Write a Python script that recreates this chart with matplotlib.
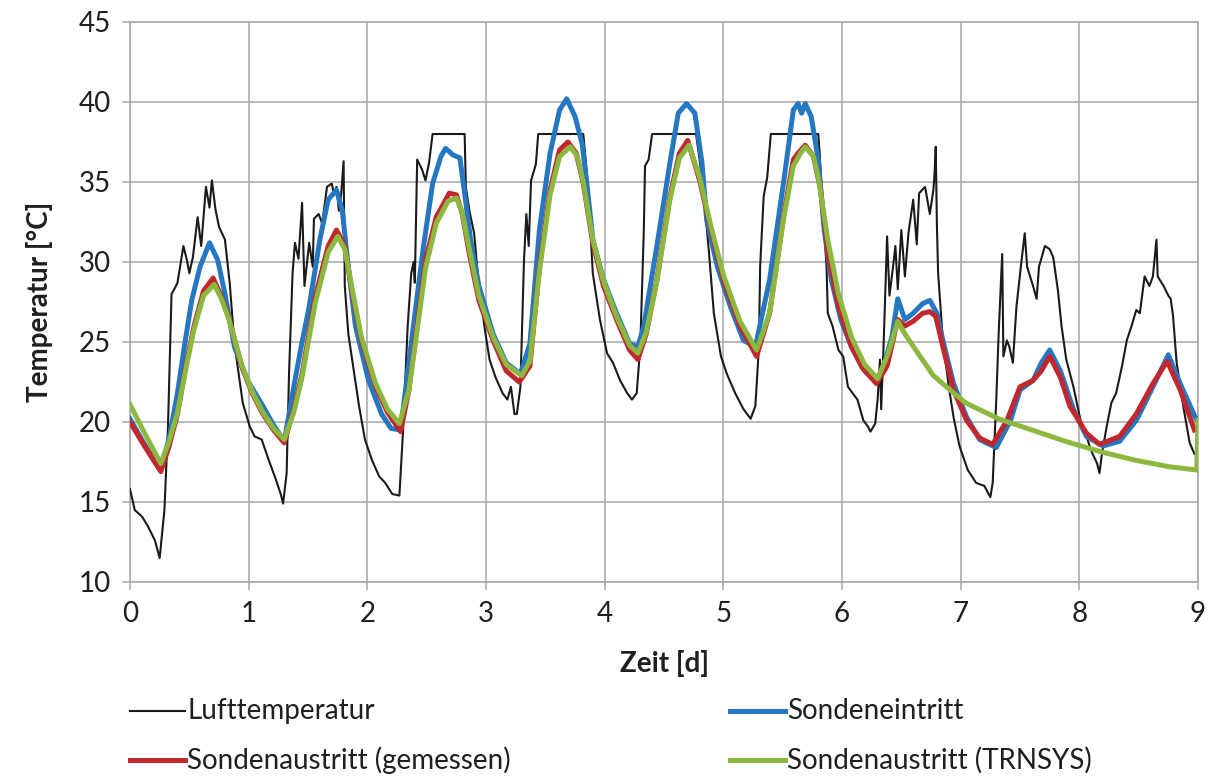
import matplotlib
matplotlib.use("Agg")
import matplotlib.pyplot as plt
from matplotlib.lines import Line2D

# ---------------- data ----------------
air_t = [0.00, 0.04, 0.10, 0.15, 0.21, 0.25, 0.29, 0.32, 0.35, 0.38, 0.40, 0.45, 0.48, 0.50,
         0.53, 0.57, 0.60, 0.64, 0.67, 0.69, 0.72, 0.75, 0.80, 0.84, 0.88, 0.95, 1.01, 1.05,
         1.11, 1.17, 1.22, 1.27, 1.29, 1.32, 1.34, 1.37, 1.39, 1.42, 1.45, 1.47, 1.51, 1.54,
         1.55, 1.59, 1.62, 1.66, 1.70, 1.72, 1.74, 1.76, 1.78, 1.80, 1.81, 1.84, 1.88, 1.93,
         1.98, 2.04, 2.10, 2.15, 2.21, 2.27, 2.30, 2.34, 2.37, 2.39, 2.40, 2.42, 2.46, 2.49,
         2.52, 2.55, 2.82, 2.83, 2.86, 2.90, 2.94, 2.99, 3.03, 3.08, 3.14, 3.18, 3.21, 3.24,
         3.26, 3.29, 3.32, 3.34, 3.36, 3.38, 3.42, 3.44, 3.82, 3.86, 3.90, 3.96, 4.02, 4.07,
         4.13, 4.19, 4.23, 4.27, 4.30, 4.33, 4.34, 4.37, 4.40, 4.77, 4.80, 4.84, 4.88, 4.92,
         4.98, 5.03, 5.10, 5.17, 5.23, 5.27, 5.30, 5.31, 5.34, 5.37, 5.40, 5.80, 5.81, 5.84,
         5.87, 5.88, 5.92, 5.97, 6.01, 6.05, 6.09, 6.13, 6.18, 6.22, 6.24, 6.28, 6.30, 6.32,
         6.33, 6.35, 6.38, 6.40, 6.43, 6.45, 6.47, 6.50, 6.53, 6.56, 6.60, 6.63, 6.65, 6.70,
         6.74, 6.77, 6.78, 6.79, 6.80, 6.81, 6.85, 6.90, 6.94, 6.99, 7.06, 7.13, 7.20, 7.25,
         7.27, 7.30, 7.32, 7.35, 7.36, 7.39, 7.41, 7.44, 7.47, 7.51, 7.54, 7.56, 7.61, 7.64,
         7.66, 7.71, 7.75, 7.78, 7.82, 7.85, 7.89, 7.95, 8.01, 8.06, 8.10, 8.15, 8.17, 8.19,
         8.23, 8.27, 8.31, 8.36, 8.40, 8.44, 8.48, 8.51, 8.55, 8.59, 8.62, 8.65, 8.66, 8.71,
         8.75, 8.77, 8.79, 8.82, 8.88, 8.93, 8.97]
air_T = [15.8, 14.5, 14.1, 13.5, 12.6, 11.5, 14.5, 19.7, 28.0, 28.4, 28.7, 31.0, 30.1, 29.3,
         30.3, 32.8, 31.0, 34.7, 33.4, 35.1, 33.3, 32.2, 31.4, 28.7, 24.9, 21.2, 19.7, 19.1,
         18.9, 17.6, 16.6, 15.5, 14.9, 16.8, 23.0, 29.3, 31.2, 30.2, 33.7, 28.5, 31.2, 29.7,
         32.7, 33.0, 32.4, 34.7, 34.9, 34.2, 34.7, 33.2, 34.3, 36.3, 28.5, 25.5, 23.5, 21.0,
         18.9, 17.6, 16.6, 16.2, 15.5, 15.4, 19.3, 26.0, 29.3, 30.0, 28.7, 36.4, 35.8, 35.1,
         36.2, 38.0, 38.0, 34.7, 33.2, 31.8, 28.5, 25.8, 23.9, 22.8, 21.8, 21.4, 22.2, 20.5,
         20.5, 22.2, 30.1, 33.0, 31.0, 35.1, 36.1, 38.0, 38.0, 34.7, 29.3, 26.4, 24.3, 23.7,
         22.6, 21.8, 21.4, 21.8, 24.7, 32.0, 36.0, 36.4, 38.0, 38.0, 36.4, 33.9, 30.5, 26.8,
         24.1, 23.0, 21.8, 20.8, 20.2, 21.0, 24.7, 29.7, 34.1, 35.3, 38.0, 38.0, 37.0, 33.0,
         29.7, 26.8, 26.0, 24.5, 24.1, 22.2, 21.8, 21.4, 20.1, 19.7, 19.4, 19.9, 21.4, 23.9,
         20.8, 24.7, 31.6, 27.9, 29.7, 31.0, 28.3, 32.0, 29.1, 31.8, 33.9, 31.1, 34.3, 34.7,
         33.0, 34.5, 35.5, 37.2, 32.2, 29.3, 25.1, 22.2, 20.3, 18.5, 17.0, 16.2, 16.0, 15.3,
         16.2, 21.4, 25.5, 30.5, 24.1, 25.1, 24.7, 23.7, 27.2, 29.9, 31.8, 29.7, 28.5, 27.7,
         29.7, 31.0, 30.8, 30.3, 28.2, 26.0, 23.9, 22.2, 20.1, 19.1, 18.2, 17.4, 16.8, 18.0,
         19.7, 21.2, 21.8, 23.5, 25.1, 26.0, 27.0, 26.8, 29.1, 28.5, 29.1, 31.4, 29.1, 28.5,
         27.9, 27.7, 26.6, 23.7, 20.8, 18.7, 18.0]

inlet_t = [0.00, 0.13, 0.26, 0.33, 0.40, 0.46, 0.52, 0.59, 0.67, 0.74, 0.80, 0.88, 0.99, 1.12,
           1.21, 1.30, 1.39, 1.45, 1.51, 1.60, 1.67, 1.74, 1.79, 1.83, 1.90, 2.01, 2.12, 2.20,
           2.28, 2.38, 2.47, 2.55, 2.62, 2.66, 2.72, 2.78, 2.82, 2.87, 2.94, 3.06, 3.17, 3.29,
           3.37, 3.45, 3.54, 3.62, 3.68, 3.75, 3.81, 3.85, 3.90, 3.99, 4.10, 4.21, 4.28, 4.33,
           4.44, 4.55, 4.62, 4.69, 4.76, 4.82, 4.86, 4.95, 5.06, 5.17, 5.27, 5.39, 5.51, 5.59,
           5.63, 5.66, 5.69, 5.74, 5.80, 5.85, 5.91, 5.99, 6.08, 6.19, 6.29, 6.36, 6.42, 6.47,
           6.53, 6.60, 6.68, 6.74, 6.80, 6.85, 6.94, 7.05, 7.16, 7.30, 7.42, 7.50, 7.61, 7.68,
           7.75, 7.84, 7.95, 8.06, 8.20, 8.34, 8.48, 8.62, 8.75, 8.85, 8.97, 9.00]
inlet_T = [20.2, 18.5, 17.1, 19.0, 21.8, 24.8, 27.6, 29.7, 31.2, 30.1, 28.0, 24.7, 22.6, 21.0,
           19.8, 18.8, 22.6, 25.0, 27.2, 31.4, 33.9, 34.5, 33.2, 30.3, 26.0, 22.6, 20.5, 19.6,
           19.5, 25.5, 30.8, 34.9, 36.6, 37.1, 36.7, 36.5, 34.3, 31.4, 28.5, 25.5, 23.7, 23.0,
           24.9, 32.0, 36.8, 39.5, 40.2, 39.1, 37.4, 34.9, 31.4, 28.9, 26.8, 24.9, 24.7, 26.0,
           31.0, 36.2, 39.3, 39.9, 39.3, 36.2, 32.6, 29.7, 27.2, 25.1, 24.7, 28.9, 35.1, 39.5,
           39.9, 39.3, 39.9, 39.1, 36.4, 32.0, 28.9, 26.4, 24.7, 23.2, 22.5, 23.7, 25.3, 27.7,
           26.4, 26.8, 27.4, 27.6, 26.8, 25.1, 22.4, 20.3, 18.9, 18.4, 20.1, 22.0, 22.6, 23.7,
           24.5, 23.2, 20.8, 19.1, 18.5, 18.8, 20.1, 22.2, 24.2, 22.4, 20.4, 20.0]

outlet_t = [0.00, 0.13, 0.26, 0.33, 0.40, 0.47, 0.54, 0.62, 0.70, 0.76, 0.83, 0.94, 1.03, 1.12,
            1.21, 1.30, 1.38, 1.45, 1.56, 1.67, 1.74, 1.81, 1.87, 1.95, 2.07, 2.17, 2.28, 2.35,
            2.41, 2.49, 2.58, 2.69, 2.75, 2.80, 2.86, 2.94, 3.06, 3.17, 3.28, 3.37, 3.45, 3.54,
            3.62, 3.69, 3.76, 3.82, 3.90, 3.99, 4.10, 4.21, 4.28, 4.35, 4.44, 4.55, 4.63, 4.70,
            4.80, 4.89, 5.00, 5.14, 5.28, 5.39, 5.51, 5.59, 5.63, 5.69, 5.76, 5.82, 5.88, 5.97,
            6.08, 6.17, 6.29, 6.38, 6.47, 6.53, 6.60, 6.68, 6.74, 6.79, 6.85, 6.94, 7.05, 7.16,
            7.27, 7.39, 7.50, 7.61, 7.68, 7.75, 7.84, 7.92, 8.06, 8.17, 8.34, 8.48, 8.62, 8.74,
            8.85, 8.97]
outlet_T = [20.0, 18.4, 16.9, 18.5, 20.5, 23.5, 26.0, 28.2, 29.0, 28.0, 26.6, 23.5, 21.8, 20.5,
            19.5, 18.7, 20.8, 23.0, 27.8, 31.0, 32.0, 31.0, 28.2, 25.1, 22.2, 20.6, 19.4, 22.0,
            25.5, 30.1, 32.8, 34.3, 34.2, 33.0, 30.5, 27.6, 25.1, 23.2, 22.5, 23.5, 29.7, 34.5,
            37.0, 37.5, 36.8, 34.9, 31.2, 28.5, 26.4, 24.5, 23.9, 25.5, 28.9, 34.1, 36.8, 37.6,
            35.1, 32.2, 28.9, 26.0, 24.1, 26.8, 33.0, 36.4, 36.8, 37.3, 36.6, 34.5, 30.6, 27.2,
            24.7, 23.4, 22.4, 23.5, 26.4, 26.0, 26.3, 26.8, 26.9, 26.6, 24.7, 22.0, 20.1, 19.0,
            18.6, 20.1, 22.2, 22.6, 23.2, 24.1, 22.8, 21.0, 19.3, 18.6, 19.1, 20.5, 22.4, 23.8,
            22.0, 19.5]

trnsys_t = [0.00, 0.13, 0.26, 0.33, 0.40, 0.47, 0.54, 0.62, 0.71, 0.77, 0.83, 0.94, 1.03, 1.12,
            1.21, 1.30, 1.38, 1.45, 1.56, 1.67, 1.75, 1.81, 1.87, 1.95, 2.07, 2.17, 2.27, 2.35,
            2.41, 2.49, 2.58, 2.68, 2.75, 2.80, 2.86, 2.94, 3.06, 3.17, 3.30, 3.37, 3.45, 3.54,
            3.62, 3.71, 3.77, 3.82, 3.90, 3.99, 4.10, 4.21, 4.28, 4.35, 4.44, 4.55, 4.63, 4.71,
            4.80, 4.89, 5.00, 5.14, 5.28, 5.39, 5.51, 5.59, 5.65, 5.69, 5.76, 5.80, 5.88, 5.97,
            6.08, 6.19, 6.30, 6.39, 6.47, 6.50, 6.53, 6.64, 6.77, 6.88, 7.04, 7.32, 7.60, 7.88,
            8.20, 8.48, 8.76, 8.99, 9.00]
trnsys_T = [21.1, 19.2, 17.4, 18.8, 20.6, 23.3, 25.8, 27.9, 28.6, 27.7, 26.5, 23.6, 21.9, 20.6,
            19.6, 18.9, 20.6, 22.8, 27.4, 30.6, 31.6, 30.8, 28.4, 25.3, 22.4, 20.8, 19.9, 22.0,
            25.2, 29.6, 32.4, 33.8, 34.0, 33.1, 30.8, 27.9, 25.3, 23.6, 22.9, 23.8, 29.4, 34.2,
            36.6, 37.2, 36.6, 35.0, 31.4, 28.8, 26.6, 24.8, 24.3, 25.6, 28.8, 33.9, 36.5, 37.3,
            35.3, 32.4, 29.2, 26.3, 24.5, 26.8, 32.8, 36.0, 36.8, 37.2, 36.6, 35.3, 31.4, 28.0,
            25.3, 23.6, 22.7, 24.3, 26.3, 25.9, 25.5, 24.3, 22.9, 22.2, 21.2, 20.2, 19.5, 18.8,
            18.1, 17.6, 17.2, 17.0, 20.1]

series_labels = ["Lufttemperatur", "Sondeneintritt",
                 "Sondenaustritt (gemessen)", "Sondenaustritt (TRNSYS)"]
x_ticks = list(range(0, 10))
y_ticks = list(range(10, 50, 5))

# ---------------- styling ----------------
FONT = "Lato"
plt.rcParams["font.family"] = [FONT, "DejaVu Sans"]
FS = 20
TXT = "#1f1f1f"
GRID = "#a6a6a6"
c_air, c_in, c_out, c_tr = "#1a1a1a", "#2477c0", "#c1272d", "#8cb840"

fig = plt.figure(figsize=(12.10, 7.77), dpi=100)
ax = fig.add_axes([130 / 1210, 1 - 582 / 777, (1198 - 130) / 1210, (582 - 22) / 777])

ax.plot(air_t, air_T, color=c_air, lw=1.5, zorder=3)
ax.plot(inlet_t, inlet_T, color=c_in, lw=3.6, zorder=4, solid_joinstyle="round")
ax.plot(outlet_t, outlet_T, color=c_out, lw=3.6, zorder=5, solid_joinstyle="round")
ax.plot(trnsys_t, trnsys_T, color=c_tr, lw=3.6, zorder=6, solid_joinstyle="round")

ax.set_xlim(0, 9)
ax.set_ylim(10, 45)
ax.set_xticks(x_ticks)
ax.set_yticks(y_ticks)
ax.grid(True, color=GRID, lw=1.1)
ax.set_axisbelow(True)
for s in ax.spines.values():
    s.set_color(GRID)
    s.set_linewidth(1.1)
ax.tick_params(axis="both", colors=GRID, length=6, width=1.1, labelsize=FS,
               labelcolor=TXT)
ax.tick_params(axis="x", pad=8)
ax.tick_params(axis="y", pad=8)

ax.set_xlabel("Zeit [d]", fontsize=FS, fontweight="bold", color=TXT, labelpad=16)
ax.set_ylabel("Temperatur [°C]", fontsize=FS, fontweight="bold", color=TXT, labelpad=18)

# legend (two columns below the plot)
colors = [c_air, c_in, c_out, c_tr]
widths = [1.5, 3.6, 3.6, 3.6]
pos = [(130, 711), (730, 711), (130, 760), (730, 760)]
for lab, col, w, (px, py) in zip(series_labels, colors, widths, pos):
    yy = 1 - py / 777
    fig.add_artist(Line2D([px / 1210, (px + 55) / 1210], [yy, yy], color=col, lw=w,
                          transform=fig.transFigure))
    fig.text((px + 57) / 1210, yy, lab, fontsize=FS, color=TXT, va="center", ha="left")

fig.savefig("out.png", dpi=100)
